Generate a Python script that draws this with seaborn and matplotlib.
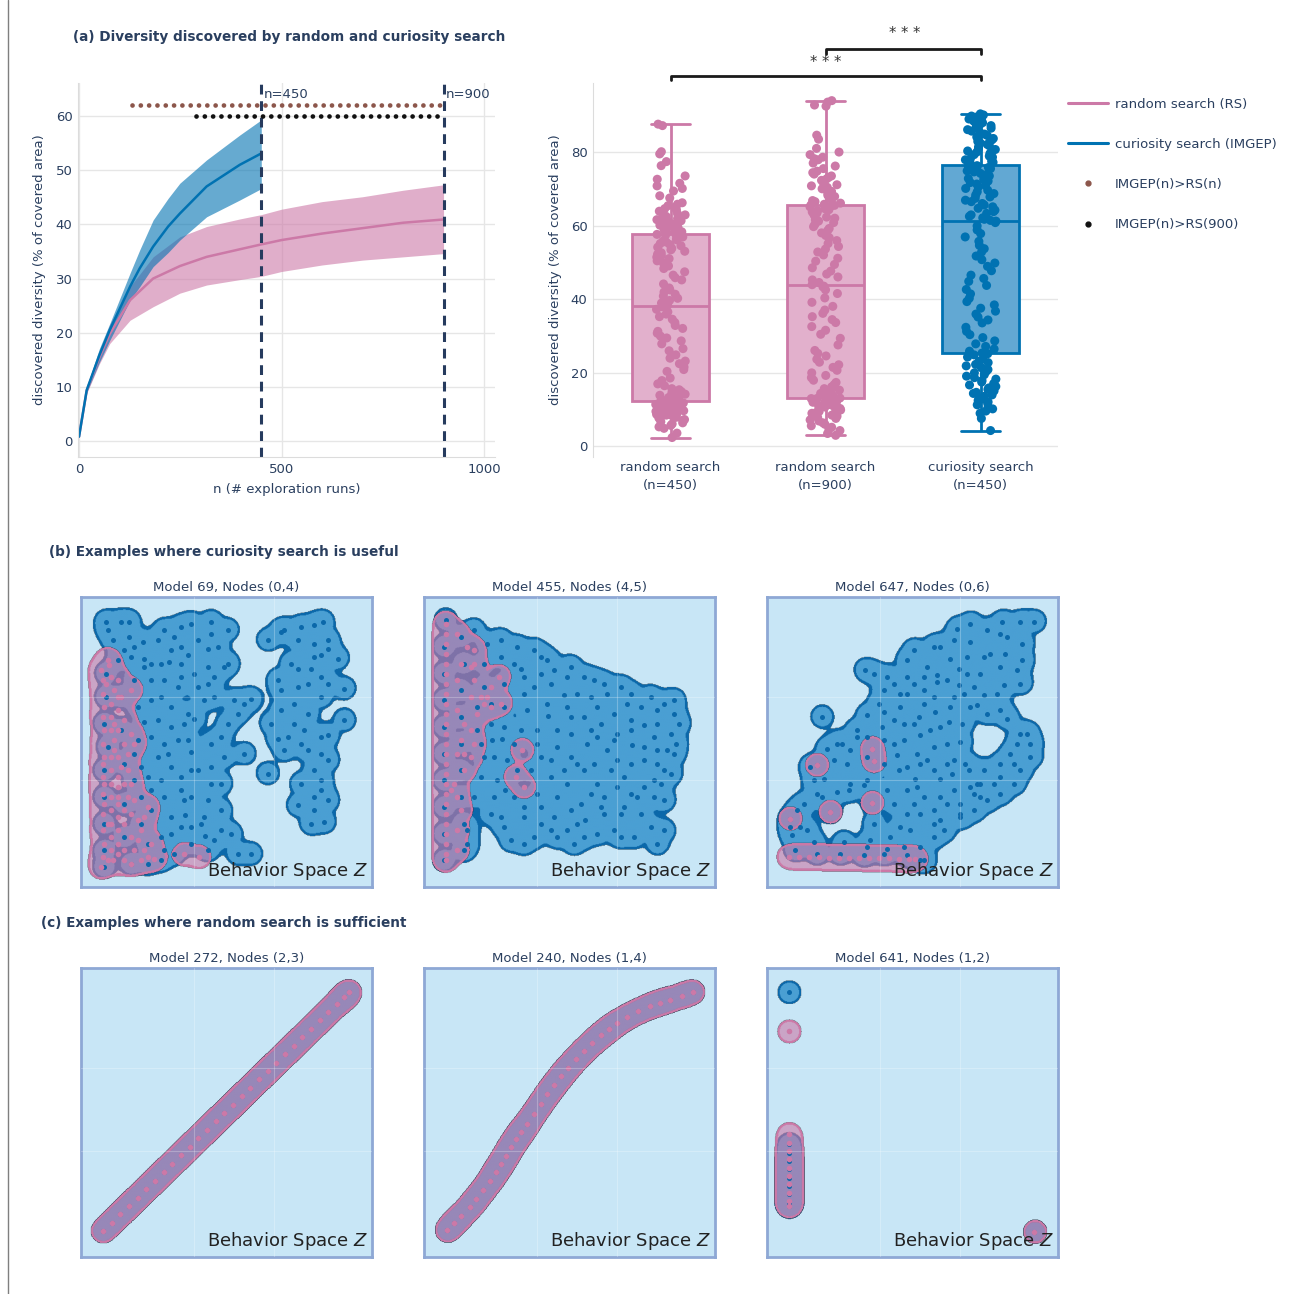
import numpy as np
import pandas as pd
import matplotlib
matplotlib.use("Agg")
import matplotlib.pyplot as plt
from matplotlib.colors import to_rgb
from matplotlib.lines import Line2D
import seaborn as sns

sns.set_style("white")
plt.rcParams["font.family"] = ["DejaVu Sans"]

NAVY = "#2a3f5f"
PINK = "#cc79a7"
BLUE = "#0072b2"
BROWN = "#8c564b"
GRID = "#e6e6e6"
BG = "#c8e6f6"
FRAME = "#8ea8d5"
BFILL = "#4a9fd3"
BEDGE = "#0b68aa"

# ---------------- (a) left: diversity curves ----------------
n_imgep = [0, 19, 50, 76, 126, 150, 183, 220, 249, 315, 397, 450]
imgep_mean = [0.8, 9.4, 15.8, 20.5, 28.5, 31.9, 35.9, 39.6, 42.0, 47.0, 51.0, 53.1]
imgep_hi = [0.8, 10.0, 17.0, 21.7, 31.0, 35.3, 40.8, 44.8, 47.6, 51.9, 56.5, 59.3]
imgep_lo = [0.8, 9.0, 14.5, 18.6, 26.0, 28.5, 32.2, 34.8, 37.1, 41.4, 44.5, 46.6]

n_rs = [0, 19, 50, 76, 126, 183, 249, 315, 397, 450, 500, 600, 700, 800, 900]
rs_mean = [0.8, 9.3, 15.4, 19.8, 26.0, 30.0, 32.3, 34.0, 35.4, 36.3, 37.1, 38.3, 39.3, 40.3, 40.9]
rs_hi = [0.8, 9.8, 16.5, 21.5, 28.5, 34.0, 37.7, 39.6, 41.0, 41.8, 42.8, 44.2, 45.1, 46.3, 47.3]
rs_lo = [0.8, 8.8, 14.2, 18.0, 22.3, 24.8, 27.3, 28.8, 29.8, 30.4, 31.3, 32.5, 33.4, 34.0, 34.6]

budgets = [450, 900]
sig_rs_n = [130, 898]      # n range where IMGEP(n) > RS(n)
sig_rs_900 = [290, 898]    # n range where IMGEP(n) > RS(900)

# ---------------- (a) right: final diversity per run ----------------
groups = ["random search\n(n=450)", "random search\n(n=900)", "curiosity search\n(n=450)"]
rs450 = [2.3, 3.5, 4.8, 5.6, 6.3, 7.0, 7.6, 8.1, 8.6, 9.0, 9.4, 9.8, 10.1, 10.4, 10.7, 11.0, 11.3, 11.6, 11.9, 12.0,
         12.3, 12.7, 13.2, 13.8, 14.5, 15.3, 16.4, 17.8, 20.3, 21.5, 23.1, 24.8, 26.5, 28.6, 29.4, 31.2, 32.8, 34.5, 35.9, 37.9,
         38.3, 39.6, 40.8, 41.9, 43.0, 45.2, 46.5, 48.3, 49.7, 51.0, 51.8, 52.6, 53.4, 54.1, 54.8, 55.5, 56.1, 56.6, 57.2, 57.7,
         58.1, 58.6, 59.2, 59.8, 60.4, 61.0, 61.6, 62.2, 62.9, 63.6, 64.3, 65.0, 65.8, 67.5, 69.4, 70.8, 72.6, 76.3, 79.5, 87.6,
         5.2, 6.0, 6.6, 7.2, 7.8, 8.3, 8.8, 9.2, 9.6, 10.0, 10.3, 10.6, 10.9, 11.1, 11.4, 11.7, 11.9, 8.4, 9.1, 10.2,
         12.4, 12.9, 13.5, 14.1, 14.8, 15.6, 16.9, 18.5, 20.8, 22.4, 23.9, 25.9, 27.8, 29.9, 30.7, 32.0, 33.6, 35.2, 36.5, 37.2,
         38.9, 40.2, 41.3, 42.5, 44.1, 45.8, 47.4, 49.0, 50.4, 51.4, 52.2, 53.0, 53.8, 54.5, 55.1, 55.8, 56.3, 56.9, 57.4, 57.6,
         58.3, 58.9, 59.5, 60.1, 60.7, 61.3, 61.9, 62.5, 63.2, 63.9, 64.6, 65.4, 66.2, 68.1, 70.1, 71.5, 73.5, 77.4, 80.1, 87.2]
rs900 = [2.9, 4.2, 5.1, 5.9, 6.8, 7.5, 8.1, 8.7, 9.2, 9.6, 10.0, 10.4, 10.8, 11.2, 11.5, 11.9, 12.2, 12.5, 12.8, 12.95,
         13.05, 13.6, 14.3, 15.2, 16.1, 17.3, 18.6, 19.9, 21.4, 22.8, 24.5, 26.0, 29.3, 31.5, 33.6, 35.2, 37.0, 39.1, 41.5, 43.5,
         43.9, 45.2, 46.8, 48.5, 50.3, 52.0, 53.6, 55.1, 56.7, 58.0, 59.2, 60.3, 61.2, 62.0, 62.7, 63.4, 64.0, 64.6, 65.1, 65.6,
         65.8, 66.5, 67.2, 67.9, 68.6, 69.3, 70.0, 70.8, 71.5, 72.3, 73.1, 74.0, 74.8, 76.2, 77.9, 78.6, 80.0, 83.5, 92.8, 94.0,
         3.4, 4.6, 5.5, 6.3, 7.1, 7.8, 8.4, 8.9, 9.4, 9.8, 10.2, 10.6, 11.0, 11.3, 11.7, 12.0, 12.3, 12.6, 12.9, 9.0,
         13.3, 13.9, 14.7, 15.6, 16.7, 17.9, 19.2, 20.6, 22.1, 23.6, 25.2, 27.5, 30.4, 32.5, 34.4, 36.1, 38.0, 40.3, 42.5, 43.3,
         44.5, 46.0, 47.6, 49.4, 51.1, 52.8, 54.3, 55.9, 57.3, 58.6, 59.7, 60.8, 61.6, 62.3, 63.0, 63.7, 64.3, 64.8, 65.3, 65.5,
         66.1, 66.8, 67.5, 68.2, 68.9, 69.6, 70.4, 71.1, 71.9, 72.7, 73.5, 74.4, 75.5, 77.0, 78.2, 79.3, 81.0, 84.6, 92.5, 93.6]
imgep450 = [4.2, 8.9, 10.1, 11.2, 12.0, 12.8, 13.5, 14.3, 15.0, 15.8, 16.6, 17.4, 18.2, 19.0, 19.9, 20.8, 21.8, 22.7, 23.6, 25.1,
            25.3, 26.4, 27.8, 29.5, 31.2, 33.5, 35.1, 36.7, 38.4, 40.2, 42.6, 44.8, 46.5, 48.9, 50.7, 52.8, 54.6, 56.9, 58.8, 61.2,
            61.4, 62.1, 62.9, 63.8, 64.7, 65.6, 66.5, 67.4, 68.3, 69.2, 70.1, 70.9, 71.7, 72.5, 73.2, 73.9, 74.6, 75.2, 75.8, 76.3,
            76.5, 77.2, 77.9, 78.6, 79.3, 80.0, 80.7, 81.4, 82.1, 82.9, 83.7, 84.5, 85.3, 86.1, 86.9, 87.6, 88.4, 89.2, 89.8, 90.4,
            7.5, 9.5, 10.6, 11.6, 12.4, 13.1, 13.9, 14.6, 15.4, 16.2, 17.0, 17.8, 18.6, 19.4, 20.3, 21.3, 22.2, 23.1, 24.2, 24.8,
            25.8, 27.1, 28.6, 30.3, 32.3, 34.3, 35.9, 37.5, 39.3, 41.4, 43.7, 45.6, 47.7, 49.8, 51.7, 53.7, 55.7, 57.8, 59.9, 60.8,
            61.7, 62.5, 63.3, 64.2, 65.1, 66.0, 66.9, 67.8, 68.7, 69.6, 70.5, 71.3, 72.1, 72.8, 73.5, 74.2, 74.9, 75.5, 76.0, 76.2,
            76.8, 77.5, 78.2, 78.9, 79.6, 80.3, 81.0, 81.7, 82.5, 83.3, 84.1, 84.9, 85.7, 86.5, 87.2, 88.0, 88.8, 89.5, 90.1, 89.0]

# ---------------- (b)/(c): behavior space samples (panel units, y down) ----------------
m69_blue = [(75, 75), (120, 75), (145, 75), (80, 100), (95, 130), (145, 120), (185, 135), (160, 150), (190, 185), (150, 180),
            (130, 160), (110, 190), (75, 230), (75, 300), (70, 380), (80, 450), (70, 520), (70, 600), (70, 680), (70, 760),
            (70, 810), (120, 300), (120, 400), (130, 500), (130, 620), (130, 720), (150, 800), (200, 800), (240, 790),
            (250, 100), (300, 90), (330, 80), (390, 75), (440, 100), (230, 130), (270, 160), (300, 150), (350, 130), (380, 155),
            (410, 150), (320, 175), (240, 200), (190, 210), (265, 195), (300, 240), (340, 230), (380, 210), (430, 210),
            (400, 240), (440, 200), (250, 250), (210, 250), (290, 270), (350, 270), (380, 260), (240, 300), (210, 310),
            (270, 330), (320, 350), (370, 310), (400, 300), (460, 310), (490, 320), (510, 305), (230, 370), (190, 375),
            (270, 390), (310, 380), (340, 365), (440, 380), (470, 350), (210, 420), (250, 440), (320, 430), (260, 470),
            (330, 465), (390, 440), (430, 480), (490, 470), (180, 510), (240, 550), (270, 510), (300, 540), (350, 520),
            (390, 560), (160, 550), (210, 580), (250, 600), (330, 600), (380, 610), (420, 640), (270, 660), (210, 640),
            (240, 720), (300, 690), (360, 680), (420, 700), (330, 740), (380, 760), (450, 710), (470, 770), (510, 770),
            (280, 770), (560, 130), (600, 105), (610, 100), (660, 90), (700, 85), (725, 75), (740, 130), (700, 140),
            (650, 130), (740, 155), (720, 175), (770, 185), (700, 180), (630, 200), (590, 250), (650, 215), (690, 215),
            (720, 240), (680, 260), (740, 260), (790, 275), (650, 270), (600, 280), (640, 320), (600, 340), (680, 350),
            (720, 300), (570, 380), (640, 380), (670, 400), (720, 420), (740, 415), (790, 370), (590, 425), (610, 460),
            (660, 440), (720, 470), (740, 490), (700, 520), (720, 550), (660, 560), (720, 580), (650, 625), (700, 640),
            (740, 610), (690, 680), (730, 675), (560, 530), (310, 610), (370, 660), (300, 580), (200, 540), (160, 470),
            (420, 560), (290, 430), (230, 480), (420, 420), (180, 600), (180, 680), (200, 740), (270, 710), (330, 520),
            (390, 510), (170, 430), (170, 330), (160, 250), (300, 200), (210, 200), (390, 110), (280, 120), (700, 600),
            (680, 460), (620, 420), (372, 717), (312, 654), (330, 690), (250, 760), (400, 730)]
m69_pink = [(80, 190), (85, 205), (60, 220), (75, 260), (100, 280), (150, 280), (120, 300), (70, 330), (110, 340), (70, 400),
            (100, 380), (150, 410), (160, 440), (100, 460), (140, 470), (70, 480), (90, 520), (120, 510), (70, 560), (110, 570),
            (150, 560), (70, 620), (110, 620), (160, 610), (200, 630), (80, 680), (130, 680), (180, 700), (70, 740), (110, 740),
            (160, 760), (210, 740), (80, 790), (130, 790), (180, 790), (220, 785), (60, 810), (310, 772), (355, 780),
            (90, 600), (90, 720), (130, 640), (100, 430), (65, 250), (65, 290), (65, 360), (65, 440), (65, 500), (65, 540),
            (65, 590), (65, 650), (65, 700), (65, 780), (110, 250), (110, 300), (110, 400), (110, 480), (110, 540), (110, 600),
            (110, 660), (110, 700), (110, 770), (150, 720), (150, 650), (140, 600), (140, 520), (130, 440), (130, 370),
            (190, 660), (190, 760), (150, 800), (200, 780), (95, 790), (90, 240), (90, 320), (90, 360), (90, 400),
            (90, 480), (90, 560), (90, 640), (90, 680), (90, 760), (130, 560), (130, 760), (170, 730), (170, 670)]

m455_blue = [(65, 70), (60, 150), (60, 230), (60, 310), (60, 390), (60, 470), (60, 550), (60, 630), (60, 710), (60, 790),
             (110, 120), (120, 200), (110, 280), (110, 360), (110, 440), (110, 520), (110, 600), (120, 680), (120, 760),
             (130, 700), (150, 100), (190, 140), (230, 130), (280, 150), (330, 160), (230, 180), (270, 200), (290, 215),
             (350, 180), (370, 190), (390, 220), (440, 210), (480, 240), (510, 250), (540, 260), (590, 270), (620, 290),
             (680, 300), (720, 320), (750, 310), (180, 270), (240, 260), (300, 240), (330, 270), (380, 260), (430, 240),
             (420, 295), (460, 290), (500, 300), (550, 290), (610, 320), (650, 330), (700, 340), (750, 350), (765, 380),
             (200, 320), (240, 330), (310, 340), (370, 320), (430, 330), (480, 360), (520, 330), (570, 350), (620, 370),
             (660, 385), (700, 380), (740, 410), (755, 440), (160, 400), (240, 390), (290, 400), (340, 400), (400, 400),
             (440, 410), (490, 440), (530, 380), (580, 410), (620, 400), (690, 420), (730, 460), (750, 470), (180, 480),
             (210, 480), (270, 440), (350, 480), (380, 490), (440, 480), (460, 500), (510, 500), (550, 460), (580, 490),
             (620, 500), (660, 490), (700, 500), (720, 520), (170, 540), (220, 550), (280, 520), (320, 520), (380, 540),
             (430, 560), (480, 520), (520, 560), (540, 600), (580, 570), (620, 590), (660, 570), (690, 550), (740, 530),
             (150, 600), (210, 600), (300, 630), (340, 590), (400, 600), (440, 640), (470, 620), (530, 630), (600, 630),
             (640, 600), (690, 600), (720, 610), (230, 660), (240, 690), (300, 660), (350, 680), (390, 660), (430, 700),
             (480, 720), (520, 710), (570, 700), (590, 720), (630, 720), (680, 690), (720, 700), (700, 740), (260, 730),
             (330, 720), (400, 720), (300, 740), (130, 740), (450, 740), (540, 650), (372, 357), (624, 444), (243, 579),
             (483, 669), (520, 420), (570, 430), (340, 440), (400, 450), (270, 600), (350, 630), (500, 590), (590, 650),
             (650, 650), (660, 450), (440, 360), (300, 290), (200, 380), (200, 650), (500, 400), (700, 460), (710, 560),
             (560, 520), (420, 520), (250, 490), (180, 200), (160, 330), (350, 230), (600, 540), (460, 680), (380, 700),
             (204, 429), (235, 425), (170, 440)]
m455_pink = [(65, 80), (65, 140), (65, 200), (65, 260), (65, 320), (65, 380), (65, 440), (65, 500), (65, 560), (65, 620),
             (65, 680), (65, 740), (65, 790), (100, 110), (130, 150), (150, 160), (110, 200), (100, 250), (150, 250),
             (200, 270), (225, 240), (230, 320), (170, 300), (160, 350), (120, 380), (110, 430), (100, 470), (120, 470),
             (120, 520), (90, 560), (110, 640), (295, 460), (275, 540), (300, 570), (140, 210), (80, 580), (180, 320),
             (150, 200), (190, 300), (140, 300), (200, 330), (140, 400), (150, 440), (140, 480), (100, 600), (100, 700),
             (100, 760), (100, 340), (65, 110), (65, 170), (65, 230), (65, 290), (65, 350), (65, 410), (65, 470), (65, 530),
             (65, 590), (65, 650), (65, 710), (65, 770)]

m647_blue = [(570, 95), (610, 80), (660, 100), (705, 75), (760, 75), (800, 75), (500, 150), (520, 150), (440, 160),
             (420, 190), (550, 185), (610, 135), (670, 170), (715, 170), (765, 140), (765, 190), (750, 220), (640, 230),
             (600, 230), (575, 215), (510, 235), (510, 255), (575, 265), (470, 280), (420, 290), (440, 260), (360, 240),
             (320, 230), (295, 220), (350, 280), (380, 260), (400, 290), (590, 290), (650, 295), (690, 290), (710, 265),
             (760, 260), (335, 320), (350, 345), (300, 355), (380, 370), (400, 330), (455, 360), (505, 345), (550, 330),
             (610, 330), (630, 325), (660, 350), (700, 340), (270, 400), (345, 390), (440, 380), (490, 400), (545, 375),
             (585, 380), (270, 420), (250, 460), (300, 420), (350, 430), (380, 440), (410, 430), (450, 470), (500, 450),
             (540, 440), (580, 435), (180, 455), (210, 440), (225, 440), (170, 545), (140, 550), (250, 560), (300, 550),
             (395, 520), (445, 545), (520, 545), (555, 530), (595, 500), (605, 520), (560, 490), (480, 490), (390, 475),
             (460, 500), (150, 590), (165, 600), (210, 585), (245, 580), (290, 565), (440, 620), (460, 650), (500, 640),
             (540, 620), (580, 620), (580, 650), (620, 640), (660, 610), (700, 590), (740, 560), (760, 520), (790, 480),
             (790, 440), (760, 410), (720, 365), (780, 410), (740, 500), (700, 500), (650, 520), (630, 560), (620, 590),
             (700, 540), (730, 470), (750, 440), (610, 570), (640, 600), (110, 620), (90, 640), (70, 690), (100, 690),
             (75, 715), (140, 735), (230, 735), (310, 730), (370, 720), (300, 750), (360, 755), (410, 750), (460, 750),
             (470, 790), (500, 720), (530, 700), (580, 660), (500, 680), (430, 700), (165, 360), (120, 700), (130, 510),
             (320, 680), (420, 580), (470, 600), (450, 570), (560, 580), (360, 580), (150, 505), (315, 455), (320, 493),
             (190, 645), (315, 618), (70, 665), (85, 760), (150, 770), (220, 770), (290, 775), (350, 770), (420, 775),
             (460, 790), (480, 210), (470, 320), (700, 210), (700, 110), (460, 415), (520, 390), (620, 270), (540, 250),
             (650, 180), (600, 180), (560, 130), (720, 120), (300, 480), (350, 500), (420, 510), (520, 600), (400, 690),
             (640, 560), (680, 560), (470, 240), (420, 240), (500, 300), (560, 300), (410, 380), (500, 520), (540, 500),
             (380, 620), (420, 650), (520, 670), (200, 490), (240, 500)]
m647_pink = [(65, 780), (95, 780), (125, 780), (155, 780), (185, 782), (215, 782), (245, 782), (275, 782), (305, 784),
             (335, 784), (365, 784), (395, 786), (425, 786), (445, 786), (150, 505), (315, 455), (320, 493), (190, 645),
             (315, 618), (70, 665)]

m272_line = [(66, 792), (92, 767), (118, 741), (144, 716), (170, 691), (196, 665), (222, 640), (248, 614), (274, 589),
             (300, 564), (326, 538), (352, 513), (378, 488), (404, 462), (430, 437), (456, 412), (482, 386), (508, 361),
             (534, 335), (560, 310), (586, 285), (612, 259), (638, 234), (664, 209), (690, 183), (716, 158), (742, 132),
             (768, 107), (790, 86), (804, 72)]
m240_line = [(70, 790), (90, 768), (112, 746), (137, 720), (157, 695), (178, 668), (199, 640), (215, 614), (231, 590),
             (246, 565), (260, 540), (276, 515), (292, 493), (309, 470), (329, 440), (350, 410), (370, 380), (390, 353),
             (411, 326), (432, 300), (456, 274), (480, 249), (505, 225), (530, 203), (554, 184), (579, 165), (610, 147),
             (643, 130), (677, 115), (708, 104), (738, 95), (775, 83), (806, 72)]
m641_blue = [(67, 73), (67, 531), (67, 556), (67, 581), (67, 606), (67, 631), (67, 656), (67, 681), (67, 706), (67, 716),
             (801, 794)]
m641_pink = [(67, 191), (67, 501), (67, 526), (67, 551), (67, 576), (67, 601), (67, 626), (67, 651), (67, 676), (67, 701),
             (67, 716), (801, 794)]

panels_b = [("Model 69, Nodes (0,4)", m69_blue, m69_pink),
            ("Model 455, Nodes (4,5)", m455_blue, m455_pink),
            ("Model 647, Nodes (0,6)", m647_blue, m647_pink)]
panels_c = [("Model 272, Nodes (2,3)", m272_line, m272_line),
            ("Model 240, Nodes (1,4)", m240_line, m240_line),
            ("Model 641, Nodes (1,2)", m641_blue, m641_pink)]

W, H = 1308, 1294
fig = plt.figure(figsize=(W / 100, H / 100), dpi=100)


def px_axes(x0, y0, x1, y1):
    return fig.add_axes([x0 / W, 1 - y1 / H, (x1 - x0) / W, (y1 - y0) / H])


def style_plotly(ax):
    for s in ["top", "right", "bottom"]:
        ax.spines[s].set_visible(False)
    ax.spines["left"].set_color("#dcdcdc")
    ax.grid(axis="y", color=GRID, lw=1)
    ax.set_axisbelow(True)
    ax.tick_params(length=0, labelsize=9.5, labelcolor=NAVY, pad=4)


# ---- (a) left
ax1 = px_axes(78, 83, 495, 457)
style_plotly(ax1)
ax1.spines["bottom"].set_visible(True)
ax1.spines["bottom"].set_color("#dcdcdc")
ax1.grid(axis="x", color=GRID, lw=1)
ax1.fill_between(n_rs, rs_lo, rs_hi, color=PINK, alpha=0.6, lw=0)
ax1.fill_between(n_imgep, imgep_lo, imgep_hi, color=BLUE, alpha=0.6, lw=0)
sns.lineplot(x=n_rs, y=rs_mean, color=PINK, lw=1.8, ax=ax1)
sns.lineplot(x=n_imgep, y=imgep_mean, color=BLUE, lw=1.8, ax=ax1)
for b in budgets:
    ax1.axvline(b, color="#263b5e", lw=2.2, ls=(0, (3.2, 2.2)))
    ax1.text(b + 5, 64, f"n={b}", fontsize=9.5, color=NAVY, va="center", ha="left")
ax1.plot(sig_rs_n, [62, 62], color=BROWN, lw=3.4, ls=(0, (0.01, 1.75)), dash_capstyle="round")
ax1.plot(sig_rs_900, [60, 60], color="#111111", lw=3.4, ls=(0, (0.01, 1.75)), dash_capstyle="round")
ax1.set_xlim(-2.5, 1027)
ax1.set_ylim(-2.95, 66.1)
ax1.set_xticks([0, 500, 1000])
ax1.set_yticks(range(0, 61, 10))
ax1.set_xlabel("n (# exploration runs)", fontsize=9.5, color=NAVY, labelpad=5)
ax1.set_ylabel("discovered diversity (% of covered area)", fontsize=9.5, color=NAVY, labelpad=7)

# ---- (a) right
ax2 = px_axes(593, 83, 1058, 457)
style_plotly(ax2)
df = pd.DataFrame({
    "method": [groups[0]] * len(rs450) + [groups[1]] * len(rs900) + [groups[2]] * len(imgep450),
    "diversity": rs450 + rs900 + imgep450,
})
box_fill = {groups[0]: "#e2b0cc", groups[1]: "#e2b0cc", groups[2]: "#62a8d3"}
box_edge = {groups[0]: PINK, groups[1]: PINK, groups[2]: BLUE}
for g in groups:
    sns.boxplot(data=df[df["method"] == g], x="method", y="diversity", order=groups, width=0.5,
                color=box_fill[g], linecolor=box_edge[g], linewidth=2, saturation=1, showfliers=False, ax=ax2)
np.random.seed(3)
sns.stripplot(data=df, x="method", y="diversity", order=groups, hue="method", palette=box_edge,
              jitter=0.1, size=6.5, linewidth=0, legend=False, ax=ax2)
ax2.set_xlim(-0.5, 2.5)
ax2.set_ylim(-3, 98.8)
ax2.set_yticks(range(0, 81, 20))
ax2.set_xlabel("")
ax2.set_ylabel("discovered diversity (% of covered area)", fontsize=9.5, color=NAVY, labelpad=6)
ax2.tick_params(axis="x", pad=3)
for lab in ax2.get_xticklabels():
    lab.set_linespacing(1.45)
for (x0, x1, y, ty) in [(1, 2, 108.0, 112.4), (0, 2, 100.7, 104.5)]:
    ax2.plot([x0, x0, x1, x1], [y - 1.2, y, y, y - 1.2], color="#1a1a1a", lw=2, clip_on=False)
    ax2.text((x0 + x1) / 2 + (0.01 if x0 == 1 else 0), ty, "* * *", fontsize=10.5, color="#333333",
             ha="center", va="center", clip_on=False)

# legend
handles = [Line2D([], [], color=PINK, lw=2.2), Line2D([], [], color=BLUE, lw=2.2),
           Line2D([], [], ls="none", marker="o", ms=3.5, color=BROWN),
           Line2D([], [], ls="none", marker="o", ms=3.5, color="#111111")]
labels = ["random search (RS)", "curiosity search (IMGEP)", "IMGEP(n)>RS(n)", "IMGEP(n)>RS(900)"]
fig.legend(handles, labels, loc="upper left", bbox_to_anchor=(1068 / W, 1 - 98 / H), frameon=False,
           fontsize=9.5, labelcolor=NAVY, labelspacing=2.05, handlelength=3, handletextpad=0.55,
           borderpad=0, borderaxespad=0)

# ---- behavior spaces: union of discs around each sample, rendered as an image
R = 36      # disc radius in panel units
EDGE_W = 7  # outline width in panel units
gx, gy = np.meshgrid(np.arange(1, 873, 2.0), np.arange(1, 870, 2.0))


def disc_field(pts, k=10.0):
    # soft minimum of the distances to the samples (merges tiny gaps between touching discs)
    acc = np.zeros(gx.shape)
    for x, y in pts:
        acc += np.exp(-np.hypot(gx - x, gy - y) / k)
    return -k * np.log(acc + 1e-300)


def disc_image(field, fill, edge, fill_alpha):
    img = np.zeros(field.shape + (4,))
    inner = field < R - EDGE_W
    ring = (field >= R - EDGE_W) & (field < R)
    img[inner, :3] = to_rgb(fill)
    img[inner, 3] = fill_alpha
    img[ring, :3] = to_rgb(edge)
    img[ring, 3] = 1.0
    return img


def draw_space(ax, title, blue, pink):
    ax.set_facecolor(BG)
    layers = [(blue, BFILL, BEDGE, 1.0, BEDGE, 13), (pink, PINK, PINK, 0.6, PINK, 16)]
    for pts, fill, edge, alpha, dot, size in layers:
        pts = np.asarray(pts, float)
        ax.imshow(disc_image(disc_field(pts), fill, edge, alpha), extent=(0, 873, 870, 0),
                  origin="upper", interpolation="antialiased", aspect="auto")
        sns.scatterplot(x=pts[:, 0], y=pts[:, 1], color=dot, s=size, linewidth=0, ax=ax)
    for v in (340, 580):
        ax.axvline(v, color="white", alpha=0.25, lw=0.8, zorder=5)
    for h in (300, 550):
        ax.axhline(h, color="white", alpha=0.25, lw=0.8, zorder=5)
    ax.set_xlim(0, 873)
    ax.set_ylim(870, 0)
    ax.set_xticks([])
    ax.set_yticks([])
    for s in ax.spines.values():
        s.set_visible(True)
        s.set_color(FRAME)
        s.set_linewidth(2)
    ax.set_title(title, fontsize=9.5, color=NAVY, pad=4)
    ax.text(0.985, 0.018, "Behavior Space $Z$", transform=ax.transAxes, ha="right", va="bottom",
            fontsize=13, color="#222222", zorder=6)


xs = [81, 424, 767]
for (title, blue, pink), x0 in zip(panels_b, xs):
    draw_space(px_axes(x0, 597, x0 + 291, 887), title, blue, pink)
for (title, blue, pink), x0 in zip(panels_c, xs):
    draw_space(px_axes(x0, 968, x0 + 291, 1257), title, blue, pink)

# section titles
fig.text(73 / W, 1 - 37 / H, "(a) Diversity discovered by random and curiosity search", fontsize=9.8,
         fontweight="bold", color=NAVY, va="center")
fig.text(49 / W, 1 - 552 / H, "(b) Examples where curiosity search is useful", fontsize=9.8,
         fontweight="bold", color=NAVY, va="center")
fig.text(41 / W, 1 - 923 / H, "(c) Examples where random search is sufficient", fontsize=9.8,
         fontweight="bold", color=NAVY, va="center")
fig.add_artist(Line2D([8 / W, 8 / W], [0, 1], color="#7f7f7f", lw=1))

fig.savefig("out.png", dpi=100, facecolor="white")
